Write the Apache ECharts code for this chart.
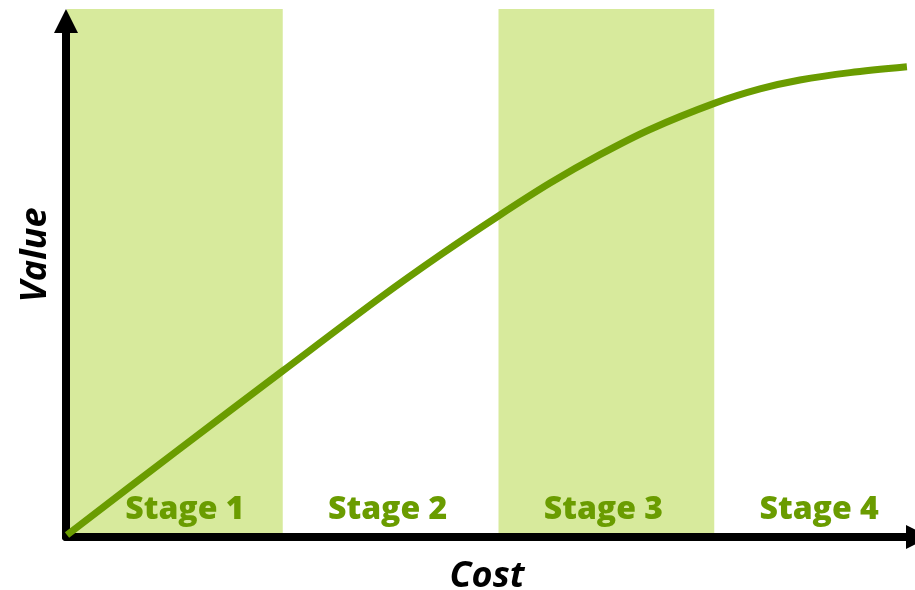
<!DOCTYPE html>
<html><head><meta charset="utf-8">
<script src="https://cdn.jsdelivr.net/npm/echarts@6/dist/echarts.min.js"></script>
<style>html,body{margin:0;padding:0;background:#fff}#c{width:915px;height:590px}</style>
</head><body><div id="c"></div>
<script>
// Stages along the cost axis (in stage units)
const stageNames = ['Stage 1', 'Stage 2', 'Stage 3', 'Stage 4'];
const stageStart = [0, 1, 2, 3];
const stageEnd = [1, 2, 3, 4];
const stageShaded = [true, false, true, false];
// Value curve (cost in stage units, value in % of axis height)
const costX = [0, 0.5, 1.0, 1.451, 1.729, 1.998, 2.239, 2.470, 2.702, 3.003, 3.212, 3.397, 3.629, 3.893];
const valueY = [0, 15.7, 31.2, 45.1, 53.2, 60.6, 66.9, 72.3, 77.1, 82.1, 84.8, 86.5, 87.9, 89.0];
const axisTitles = { x: 'Cost', y: 'Value' };

const GREEN = '#6a9c00';
const SHADE = '#d7ea9c';
const FONT = '"Open Sans", "Noto Sans", sans-serif';
const labelOffsets = [[10, 2], [-3, 2], [-3, 2], [-3, 2]];

const chart = echarts.init(document.getElementById('c'), null, { renderer: 'canvas' });

const areaData = stageNames.map((name, i) => [
  {
    name: name,
    xAxis: stageStart[i],
    itemStyle: { color: stageShaded[i] ? SHADE : 'rgba(0,0,0,0)' },
    label: { offset: labelOffsets[i] }
  },
  { xAxis: stageEnd[i] }
]);

const curve = costX.map((x, i) => [x, valueY[i]]);
const hidden = { show: false };
chart.setOption({
  animation: false,
  backgroundColor: '#fff',
  grid: [
    { left: 67, width: 863, top: 9, bottom: 55, outerBoundsMode: 'none', containLabel: false },
    { left: 66, width: 852, top: 21, bottom: 53, outerBoundsMode: 'none', containLabel: false }
  ],
  xAxis: [
    { gridIndex: 0, type: 'value', min: 0, max: 4, axisLine: hidden, axisTick: hidden, axisLabel: hidden, splitLine: hidden },
    {
      gridIndex: 1, type: 'value', min: 0, max: 1, z: 10,
      axisLine: { show: true, symbol: ['none', 'triangle'], symbolSize: [24, 24], lineStyle: { color: '#000', width: 8 } },
      axisTick: hidden, axisLabel: hidden, splitLine: hidden,
      name: axisTitles.x, nameLocation: 'middle', nameGap: 22,
      nameTextStyle: { fontFamily: FONT, fontWeight: 'bold', fontStyle: 'italic', fontSize: 36, color: '#000', padding: [0, 10, 0, 0] }
    }
  ],
  yAxis: [
    { gridIndex: 0, type: 'value', min: 0, max: 100, axisLine: hidden, axisTick: hidden, axisLabel: hidden, splitLine: hidden },
    {
      gridIndex: 1, type: 'value', min: 0, max: 1, z: 10,
      axisLine: { show: true, symbol: ['none', 'triangle'], symbolSize: [24, 24], lineStyle: { color: '#000', width: 8 } },
      axisTick: hidden, axisLabel: hidden, splitLine: hidden,
      name: axisTitles.y, nameLocation: 'middle', nameGap: 12, nameRotate: 90,
      nameTextStyle: { fontFamily: FONT, fontWeight: 'bold', fontStyle: 'italic', fontSize: 36, color: '#000', padding: [0, 0, 0, 48] }
    }
  ],
  series: [
    {
      type: 'line',
      xAxisIndex: 0, yAxisIndex: 0,
      data: curve,
      showSymbol: false,
      silent: true,
      z: 1,
      lineStyle: { opacity: 0, width: 0 },
      markArea: {
        silent: true,
        label: {
          show: true, position: 'insideBottom', distance: 11,
          fontFamily: FONT, fontWeight: 800, fontSize: 32, color: GREEN
        },
        data: areaData
      }
    },
    {
      type: 'line',
      xAxisIndex: 0, yAxisIndex: 0,
      data: curve,
      smooth: 0.3,
      showSymbol: false,
      clip: false,
      z: 20,
      lineStyle: { color: GREEN, width: 7, cap: 'butt' }
    }
  ]
});
</script>
</body></html>
